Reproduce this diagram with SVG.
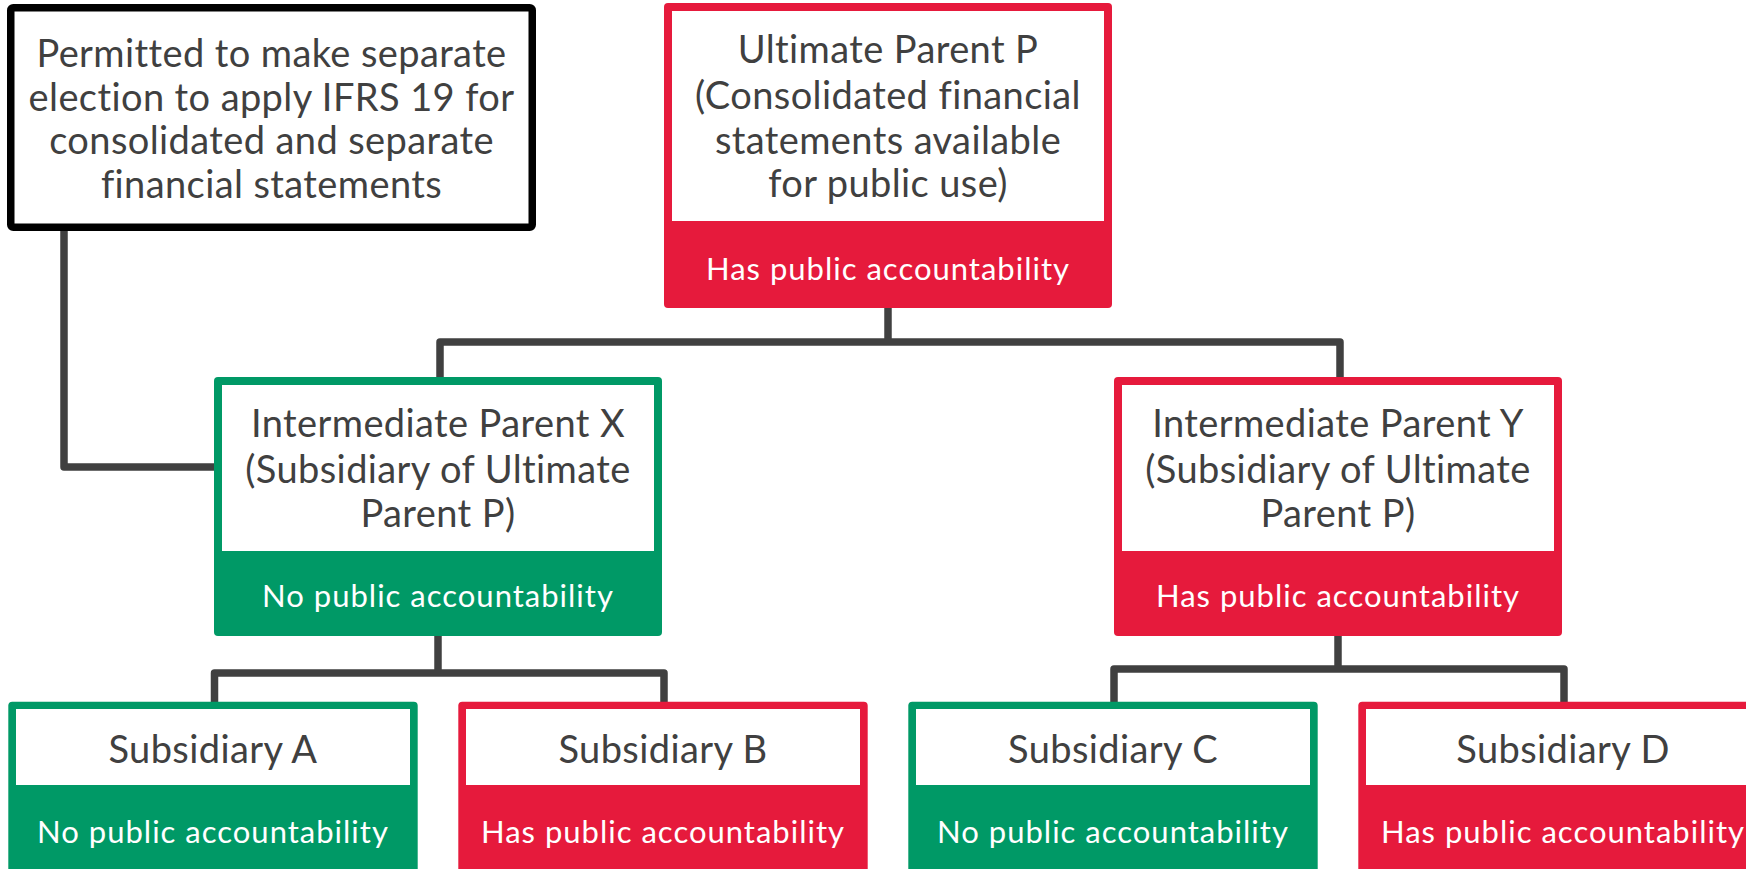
<svg xmlns="http://www.w3.org/2000/svg" width="1746" height="869" viewBox="0 0 1746 869">
<style>
.conn{fill:none;stroke:#404040;stroke-width:7.5;stroke-linejoin:round;stroke-linecap:butt}
.t{font-family:Lato,"Open Sans","Liberation Sans",sans-serif;fill:#404040;text-anchor:middle;font-size:38px;letter-spacing:0.4px}
.b{font-family:Lato,"Open Sans","Liberation Sans",sans-serif;fill:#ffffff;text-anchor:middle;font-size:31px;letter-spacing:1px}
.red{fill:#E61A3C}
.green{fill:#009966}
.inner{fill:#ffffff}
</style>
<rect width="1746" height="869" fill="#ffffff"/>
<g id="connectors">
<path class="conn" d="M888,306 V342"/>
<path class="conn" d="M440,380 V342 H1340 V380"/>
<path class="conn" d="M438,634 V673"/>
<path class="conn" d="M214.5,704 V673 H664 V704"/>
<path class="conn" d="M1338,634 V669"/>
<path class="conn" d="M1114,704 V669 H1564 V704"/>
<path class="conn" d="M64,229 V467 H217"/>
</g>
<g id="note">
<rect x="10.75" y="7.75" width="521.5" height="219.5" rx="2.5" fill="#ffffff" stroke="#000000" stroke-width="7.5"/>
<text class="t" x="271.5" y="66.5">Permitted to make separate</text>
<text class="t" x="271.5" y="110.5">election to apply IFRS 19 for</text>
<text class="t" x="271.5" y="154">consolidated and separate</text>
<text class="t" x="271.5" y="197.5">financial statements</text>
</g>
<g id="ultimate-parent-p">
<rect class="red" x="664" y="3" width="448" height="305" rx="4"/>
<rect class="inner" x="672" y="11" width="432" height="210"/>
<text class="t" x="888" y="63">Ultimate Parent P</text>
<text class="t" x="888" y="109">(Consolidated financial</text>
<text class="t" x="888" y="154">statements available</text>
<text class="t" x="888" y="197">for public use)</text>
<text class="b" x="888" y="280">Has public accountability</text>
</g>
<g id="intermediate-parent-x">
<rect class="green" x="214" y="377" width="448" height="259" rx="4"/>
<rect class="inner" x="222" y="385" width="432" height="166"/>
<text class="t" x="438" y="437">Intermediate Parent X</text>
<text class="t" x="438" y="483">(Subsidiary of Ultimate</text>
<text class="t" x="438" y="527">Parent P)</text>
<text class="b" x="438" y="607">No public accountability</text>
</g>
<g id="intermediate-parent-y">
<rect class="red" x="1114" y="377" width="448" height="259" rx="4"/>
<rect class="inner" x="1122" y="385" width="432" height="166"/>
<text class="t" x="1338" y="437">Intermediate Parent Y</text>
<text class="t" x="1338" y="483">(Subsidiary of Ultimate</text>
<text class="t" x="1338" y="527">Parent P)</text>
<text class="b" x="1338" y="607">Has public accountability</text>
</g>
<g id="subsidiary-a">
<rect class="green" x="8.3" y="701.7" width="409.4" height="180" rx="4"/>
<rect class="inner" x="16" y="709" width="394" height="76"/>
<text class="t" x="213" y="763">Subsidiary A</text>
<text class="b" x="213" y="843">No public accountability</text>
</g>
<g id="subsidiary-b">
<rect class="red" x="458.3" y="701.7" width="409.4" height="180" rx="4"/>
<rect class="inner" x="466" y="709" width="394" height="76"/>
<text class="t" x="663" y="763">Subsidiary B</text>
<text class="b" x="663" y="843">Has public accountability</text>
</g>
<g id="subsidiary-c">
<rect class="green" x="908.3" y="701.7" width="409.4" height="180" rx="4"/>
<rect class="inner" x="916" y="709" width="394" height="76"/>
<text class="t" x="1113" y="763">Subsidiary C</text>
<text class="b" x="1113" y="843">No public accountability</text>
</g>
<g id="subsidiary-d">
<rect class="red" x="1358.3" y="701.7" width="409.4" height="180" rx="4"/>
<rect class="inner" x="1366" y="709" width="394" height="76"/>
<text class="t" x="1563" y="763">Subsidiary D</text>
<text class="b" x="1563" y="843">Has public accountability</text>
</g>
</svg>
